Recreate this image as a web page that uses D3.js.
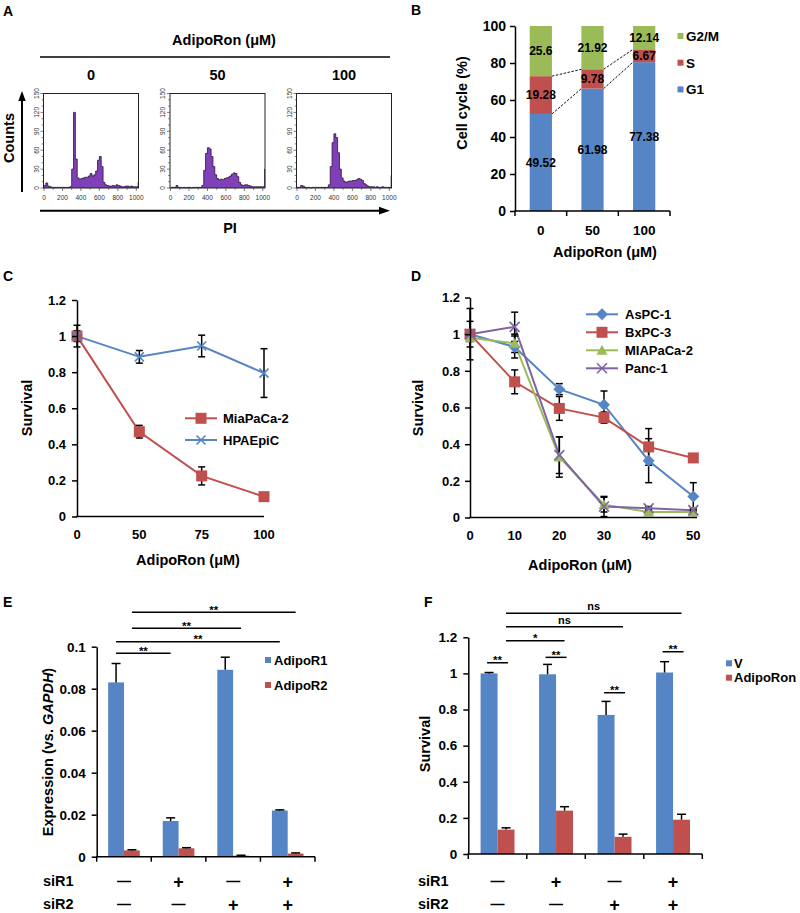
<!DOCTYPE html>
<html>
<head>
<meta charset="utf-8">
<script src="https://cdn.jsdelivr.net/npm/d3@7"></script>
<style>
body { margin: 0; background: #fff; }
svg { display: block; font-family: "Liberation Sans", Arial, sans-serif; font-weight: bold; }
</style>
</head>
<body>
<svg width="800" height="913"></svg>
<script>
var WIDTH = 800;
var HEIGHT = 913;
var FONT = "'Liberation Sans', Arial, sans-serif";
var BLUE = "#5585c5", RED = "#c0504d", GREEN = "#9bbb59", PURPLE = "#8064a2", HIST = "#8040b8";

// A: PI histograms, bins of 20 channels
var histDoses = ["0", "50", "100"];
var histBins = d3.range(0, 1040, 20);
var hist0 = [4, 8, 3, 2, 1, 1, 1, 1, 1, 1, 1, 1, 1, 1, 2, 30, 120, 46, 16, 14, 15, 16, 17, 17, 19, 23, 19, 21, 27, 44,
    50, 34, 9, 5, 4, 3, 3, 4, 3, 5, 4, 3, 2, 2, 3, 3, 2, 3, 2, 2, 2, 9];
var hist50 = [1, 1, 1, 4, 1, 1, 0, 1, 0, 1, 1, 0, 1, 1, 1, 1, 1, 4, 28, 55, 64, 62, 50, 34, 21, 15, 13, 14, 13, 15,
    16, 17, 19, 22, 24, 23, 18, 9, 5, 4, 5, 5, 4, 3, 2, 2, 2, 2, 2, 2, 2, 30];
var hist100 = [1, 1, 4, 3, 1, 1, 1, 0, 1, 1, 1, 1, 1, 1, 1, 1, 1, 5, 34, 72, 86, 80, 56, 30, 16, 11, 9, 10, 11, 11,
    12, 12, 13, 15, 14, 12, 7, 5, 3, 2, 2, 2, 1, 2, 1, 1, 2, 1, 1, 1, 1, 20];
var histXTicks = [0, 200, 400, 600, 800, 1000];
var histYTicks = [0, 30, 60, 90, 120, 150];

// B: cell cycle distribution
var cycleDoses = ["0", "50", "100"];
var phaseNames = ["G1", "S", "G2/M"];
var g1Pct = [49.52, 61.98, 77.38];
var sPct = [19.28, 9.78, 6.67];
var g2mPct = [25.6, 21.92, 12.14];
var pctTicks = [0, 20, 40, 60, 80, 100];

// C: survival, MiaPaCa-2 vs HPAEpiC
var dosesC = ["0", "50", "75", "100"];
var miaC = [1.0, 0.47, 0.225, 0.11];
var miaCErr = [0.03, 0.035, 0.05, 0.01];
var hpaC = [1.0, 0.885, 0.945, 0.795];
var hpaCErr = [0.06, 0.035, 0.06, 0.135];
var survTicks = [0, 0.2, 0.4, 0.6, 0.8, 1, 1.2];

// D: survival of four pancreatic lines
var dosesD = ["0", "10", "20", "30", "40", "50"];
var aspc = [1.0, 0.93, 0.70, 0.615, 0.31, 0.115];
var aspcErr = [0.07, 0.06, 0.03, 0.075, 0.12, 0.075];
var bxpc = [1.0, 0.74, 0.595, 0.545, 0.385, 0.325];
var bxpcErr = [0.02, 0.065, 0.065, 0.03, 0.1, 0.01];
var miaD = [0.98, 0.95, 0.33, 0.07, 0.03, 0.03];
var miaDErr = [0.02, 0.05, 0.11, 0.04, 0.01, 0.01];
var panc = [1.0, 1.04, 0.34, 0.06, 0.05, 0.04];
var pancErr = [0.14, 0.08, 0.1, 0.055, 0.01, 0.01];

// E / F: siRNA knockdown
var siR1 = ["—", "+", "—", "+"];
var siR2 = ["—", "—", "+", "+"];
var adipoR1 = [0.083, 0.017, 0.089, 0.022];
var adipoR1Err = [0.009, 0.0015, 0.006, 0.0003];
var adipoR2 = [0.003, 0.004, 0.0005, 0.0015];
var adipoR2Err = [0.0003, 0.0003, 0.0002, 0.0003];
var exprTicks = [0, 0.02, 0.04, 0.06, 0.08, 0.1];
var exprSig = [
    {a: [0, "AdipoR1"], b: [1, "AdipoR1"], level: 0.0969, label: "**"},
    {a: [0, "AdipoR1"], b: [3, "AdipoR1"], level: 0.1024, label: "**"},
    {a: [0, "AdipoR2"], b: [2, "AdipoR2"], level: 0.1088, label: "**"},
    {a: [0, "AdipoR2"], b: [3, "AdipoR2"], level: 0.1164, label: "**"}
];
var survV = [1.0, 0.995, 0.77, 1.005];
var survVErr = [0.005, 0.055, 0.075, 0.06];
var survAR = [0.135, 0.24, 0.095, 0.19];
var survARErr = [0.01, 0.022, 0.015, 0.03];
var survSig = [
    {a: [0, "V"], b: [0, "AdipoRon"], level: 1.059, label: "**"},
    {a: [1, "V"], b: [1, "AdipoRon"], level: 1.089, label: "**"},
    {a: [2, "V"], b: [2, "AdipoRon"], level: 0.893, label: "**"},
    {a: [3, "V"], b: [3, "AdipoRon"], level: 1.12, label: "**"},
    {a: [0, "AdipoRon"], b: [1, "AdipoRon"], level: 1.181, label: "*"},
    {a: [0, "AdipoRon"], b: [2, "AdipoRon"], level: 1.259, label: "ns"},
    {a: [0, "AdipoRon"], b: [3, "AdipoRon"], level: 1.333, label: "ns"}
];

var svg = d3.select("svg")
    .attr("width", WIDTH)
    .attr("height", HEIGHT);

function label(x, y, txt, size, anchor) {
    return svg.append("text")
        .attr("x", x)
        .attr("y", y)
        .attr("font-size", size)
        .attr("text-anchor", anchor || "start")
        .attr("fill", "#000")
        .text(txt);
}

function vlabel(x, y, txt, size) {
    return svg.append("text")
        .attr("transform", "translate(" + x + "," + y + ") rotate(-90)")
        .attr("font-size", size)
        .attr("text-anchor", "middle")
        .attr("fill", "#000")
        .text(txt);
}

function seg(x1, y1, x2, y2, w) {
    return svg.append("line")
        .attr("x1", x1).attr("y1", y1)
        .attr("x2", x2).attr("y2", y2)
        .attr("stroke", "#000")
        .attr("stroke-width", w || 1.5);
}

function leftAxis(y, x, ticks, fmt, pad, size) {
    var g = svg.append("g")
        .attr("transform", "translate(" + x + ",0)")
        .call(d3.axisLeft(y).tickValues(ticks).tickFormat(fmt)
            .tickSize(5).tickSizeOuter(0).tickPadding(pad));
    g.attr("font-family", FONT).attr("font-size", size || 13).attr("font-weight", "bold");
    g.select(".domain").attr("stroke", "#000").attr("stroke-width", 1.5);
    g.selectAll(".tick line").attr("stroke", "#000").attr("stroke-width", 1.5);
    g.selectAll(".tick text").attr("fill", "#000");
    return g;
}

function fmtSurv(d) {
    return (d === 0 || d === 1) ? String(d) : d.toFixed(1);
}

// yBot null -> only the upper half (bar charts)
function errBar(x, yTop, yBot, cap) {
    seg(x - cap / 2, yTop, x + cap / 2, yTop, 1.5);
    if (yBot !== null) {
        seg(x, yTop, x, yBot, 1.5);
        seg(x - cap / 2, yBot, x + cap / 2, yBot, 1.5);
    }
}

function marker(g, type, size, color) {
    var h = size / 2;
    if (type === "square") {
        g.append("rect").attr("x", -h).attr("y", -h).attr("width", size).attr("height", size)
            .attr("fill", color);
    } else if (type === "diamond") {
        g.append("path").attr("d", "M0," + (-h) + "L" + h + ",0L0," + h + "L" + (-h) + ",0Z")
            .attr("fill", color);
    } else if (type === "triangle") {
        g.append("path").attr("d", "M0," + (-h) + "L" + h + "," + (h * 0.8) + "L" + (-h) + "," + (h * 0.8) + "Z")
            .attr("fill", color);
    } else {
        g.append("path").attr("d", "M" + (-h) + "," + (-h) + "L" + h + "," + h + "M" + h + "," + (-h) + "L" + (-h) + "," + h)
            .attr("stroke", color).attr("stroke-width", 1.6).attr("fill", "none");
    }
}

// ---------------- panel letters
label(3, 16, "A", 14);
label(411, 15, "B", 14);
label(3, 281, "C", 14);
label(411, 281, "D", 14);
label(3, 607, "E", 14);
label(424, 607, "F", 14);

// ---------------- A
label(224, 45, "AdipoRon (\u03bcM)", 14.5, "middle");
seg(40, 57, 390, 57, 1.5);

var hists = [hist0, hist50, hist100];
hists.forEach(function(counts, i) {
    var x0 = 43.5 + i * 126.5;
    var hx = d3.scaleLinear().domain([0, 1024]).range([x0 + 0.5, x0 + 95]);
    var hy = d3.scaleLinear().domain([0, 150]).range([188, 93.5]);
    var pts = histBins.map(function(b, k) { return {bin: b, n: counts[k]}; });
    pts.push({bin: 1024, n: counts[counts.length - 1]});

    label(x0 + 47.5, 80, histDoses[i], 14.5, "middle");

    svg.append("path")
        .datum(pts)
        .attr("d", d3.area().curve(d3.curveStepAfter)
            .x(function(d) { return hx(d.bin); })
            .y0(hy(0))
            .y1(function(d) { return hy(d.n); }))
        .attr("fill", HIST);
    svg.append("path")
        .datum(pts)
        .attr("d", d3.line().curve(d3.curveStepAfter)
            .x(function(d) { return hx(d.bin); })
            .y(function(d) { return hy(d.n); }))
        .attr("fill", "none")
        .attr("stroke", "#2a1538")
        .attr("stroke-width", 0.8);

    svg.append("rect")
        .attr("x", x0).attr("y", 93.5)
        .attr("width", 95).attr("height", 94.5)
        .attr("fill", "none").attr("stroke", "#222").attr("stroke-width", 1);

    // small ticks
    svg.selectAll(null)
        .data(d3.range(0, 151, 10))
        .enter().append("line")
        .attr("x1", x0).attr("x2", function(d) { return d % 30 === 0 ? x0 - 3 : x0 - 1.8; })
        .attr("y1", hy).attr("y2", hy)
        .attr("stroke", "#444").attr("stroke-width", 0.7);
    svg.selectAll(null)
        .data(d3.range(0, 1001, 100))
        .enter().append("line")
        .attr("x1", hx).attr("x2", hx)
        .attr("y1", 188).attr("y2", function(d) { return d % 200 === 0 ? 191 : 189.8; })
        .attr("stroke", "#444").attr("stroke-width", 0.7);
    svg.selectAll(null)
        .data(histYTicks)
        .enter().append("text")
        .attr("transform", function(d) { return "translate(" + (x0 - 5) + "," + hy(d) + ") rotate(-90)"; })
        .attr("text-anchor", "middle")
        .attr("font-size", 6.5)
        .attr("font-weight", "normal")
        .attr("fill", "#333")
        .text(function(d) { return d; });
    svg.selectAll(null)
        .data(histXTicks)
        .enter().append("text")
        .attr("x", hx).attr("y", 200)
        .attr("text-anchor", "middle")
        .attr("font-size", 6.5)
        .attr("font-weight", "normal")
        .attr("fill", "#333")
        .text(function(d) { return d; });
});

// axis arrows
seg(22, 192, 22, 100, 2);
svg.append("path").attr("d", "M22,91L18.3,101L25.7,101Z").attr("fill", "#000");
seg(40, 210.7, 380, 210.7, 2);
svg.append("path").attr("d", "M390,210.7L379,206.8L379,214.6Z").attr("fill", "#000");
vlabel(13.5, 138, "Counts", 14.5);
label(230, 233, "PI", 14.5, "middle");

// ---------------- B
var yB = d3.scaleLinear().domain([0, 100]).range([211, 26]);
var xB = d3.scaleBand().domain(cycleDoses).range([515, 670]).paddingInner(0.57).paddingOuter(0.285);
var cycleRows = cycleDoses.map(function(d, i) {
    return {dose: d, "G1": g1Pct[i], "S": sPct[i], "G2/M": g2mPct[i]};
});
var cycleStack = d3.stack().keys(phaseNames).offset(d3.stackOffsetExpand)(cycleRows);
var phaseColor = {"G1": BLUE, "S": RED, "G2/M": GREEN};

cycleStack.forEach(function(layer) {
    svg.selectAll(null)
        .data(layer)
        .enter().append("rect")
        .attr("x", function(d) { return xB(d.data.dose); })
        .attr("y", function(d) { return yB(d[1] * 100); })
        .attr("width", xB.bandwidth())
        .attr("height", function(d) { return yB(d[0] * 100) - yB(d[1] * 100); })
        .attr("fill", phaseColor[layer.key]);
});
// dashed connectors at the G1 and S tops
[0, 1].forEach(function(k) {
    for (var i = 0; i < cycleDoses.length - 1; i++) {
        svg.append("line")
            .attr("x1", xB(cycleDoses[i]) + xB.bandwidth())
            .attr("y1", yB(cycleStack[k][i][1] * 100))
            .attr("x2", xB(cycleDoses[i + 1]))
            .attr("y2", yB(cycleStack[k][i + 1][1] * 100))
            .attr("stroke", "#111").attr("stroke-width", 1)
            .attr("stroke-dasharray", "2.5,1.5");
    }
});
cycleStack.forEach(function(layer) {
    svg.selectAll(null)
        .data(layer)
        .enter().append("text")
        .attr("x", function(d) { return xB(d.data.dose) + xB.bandwidth() / 2; })
        .attr("y", function(d) { return yB((d[0] + d[1]) * 50) + 4.3; })
        .attr("text-anchor", "middle")
        .attr("font-size", 12)
        .attr("fill", "#000")
        .text(function(d) { return d.data[layer.key]; });
});
leftAxis(yB, 515, pctTicks, d3.format("d"), 4, 14);
seg(514.25, 211, 670, 211, 1.5);
[0, 1, 2, 3].forEach(function(k) {
    var xt = 515 + k * xB.step();
    seg(xt, 211, xt, 216, 1.5);
});
cycleDoses.forEach(function(d) {
    label(xB(d) + xB.bandwidth() / 2, 235, d, 13.5, "middle");
});
label(605, 257, "AdipoRon (\u03bcM)", 14.5, "middle");
vlabel(466.5, 103, "Cell cycle (%)", 14.5);
["G2/M", "S", "G1"].forEach(function(p, i) {
    var ly = 36 + i * 26.7;
    svg.append("rect").attr("x", 677.5).attr("y", ly - 3).attr("width", 6).attr("height", 6)
        .attr("fill", phaseColor[p]);
    label(686, ly + 4.8, p, 13.5);
});

// ---------------- C and D line charts
function lineChart(xs, ys, doses, series, xEnd) {
    series.forEach(function(s) {
        svg.append("path")
            .datum(s.values)
            .attr("d", d3.line()
                .x(function(d, i) { return xs(doses[i]); })
                .y(function(d) { return ys(d); }))
            .attr("fill", "none")
            .attr("stroke", s.color)
            .attr("stroke-width", 2);
    });
    series.forEach(function(s) {
        s.values.forEach(function(v, i) {
            errBar(xs(doses[i]), ys(v + s.err[i]), ys(v - s.err[i]), 7);
        });
    });
    series.forEach(function(s) {
        s.values.forEach(function(v, i) {
            var g = svg.append("g").attr("transform", "translate(" + xs(doses[i]) + "," + ys(v) + ")");
            marker(g, s.symbol, s.size, s.color);
        });
    });
    seg(xs(doses[0]) - 0.75, ys(0), xEnd, ys(0), 1.5);
    doses.forEach(function(d) {
        label(xs(d), ys(0) + 22, d, 13, "middle");
    });
}

function lineLegend(series, x1, x2, tx, y0, dy) {
    series.forEach(function(s, i) {
        var ly = y0 + i * dy;
        seg(x1, ly, x2, ly, 2).attr("stroke", s.color);
        var g = svg.append("g").attr("transform", "translate(" + ((x1 + x2) / 2) + "," + ly + ")");
        marker(g, s.symbol, s.size, s.color);
        label(tx, ly + 4.6, s.name, 13);
    });
}

var xC = d3.scalePoint().domain(dosesC).range([77, 264]);
var yC = d3.scaleLinear().domain([0, 1.2]).range([516.5, 300]);
var seriesC = [
    {name: "MiaPaCa-2", values: miaC, err: miaCErr, color: RED, symbol: "square", size: 11},
    {name: "HPAEpiC", values: hpaC, err: hpaCErr, color: BLUE, symbol: "x", size: 9}
];
lineChart(xC, yC, dosesC, seriesC, 264);
leftAxis(yC, 77, survTicks, fmtSurv, 6, 13);
lineLegend(seriesC, 185, 217, 223, 418.3, 21.7);
vlabel(32, 408, "Survival", 14.5);
label(188, 565, "AdipoRon (\u03bcM)", 14.5, "middle");

var xD = d3.scalePoint().domain(dosesD).range([470, 693.3]);
var yD = d3.scaleLinear().domain([0, 1.2]).range([517.5, 297.5]);
var seriesD = [
    {name: "AsPC-1", values: aspc, err: aspcErr, color: BLUE, symbol: "diamond", size: 12},
    {name: "BxPC-3", values: bxpc, err: bxpcErr, color: RED, symbol: "square", size: 11},
    {name: "MIAPaCa-2", values: miaD, err: miaDErr, color: GREEN, symbol: "triangle", size: 11},
    {name: "Panc-1", values: panc, err: pancErr, color: PURPLE, symbol: "x", size: 10}
];
lineChart(xD, yD, dosesD, seriesD, 697);
leftAxis(yD, 470, survTicks, fmtSurv, 5, 13);
lineLegend(seriesD, 586, 618, 625, 314.3, 18);
vlabel(422.5, 408, "Survival", 14.5);
label(580, 570, "AdipoRon (\u03bcM)", 14.5, "middle");

// ---------------- E and F grouped bars
function groupedBars(x0, x1, y, keys, vals, errs, colors, ticks, fmt, pad) {
    var xg = d3.scaleBand().domain(d3.range(vals[0].length)).range([x0, x1])
        .paddingInner(0.42).paddingOuter(0.21);
    var xs = d3.scaleBand().domain(keys).range([0, xg.bandwidth()]);
    keys.forEach(function(k, j) {
        svg.selectAll(null)
            .data(vals[j])
            .enter().append("rect")
            .attr("x", function(d, i) { return xg(i) + xs(k); })
            .attr("y", function(d) { return y(d); })
            .attr("width", xs.bandwidth())
            .attr("height", function(d) { return y(0) - y(d); })
            .attr("fill", colors[j]);
        vals[j].forEach(function(v, i) {
            var cx = xg(i) + xs(k) + xs.bandwidth() / 2;
            seg(cx, y(v + errs[j][i]), cx, y(v), 1.5);
            errBar(cx, y(v + errs[j][i]), null, 9);
        });
    });
    leftAxis(y, x0, ticks, fmt, pad, 13.5);
    seg(x0 - 0.75, y(0), x1, y(0), 1.5);
    for (var k = 0; k <= vals[0].length; k++) {
        seg(x0 + k * xg.step(), y(0), x0 + k * xg.step(), y(0) + 5, 1.5);
    }
    var rows = [["siR1", siR1, 886], ["siR2", siR2, 909]];
    rows.forEach(function(r) {
        r[1].forEach(function(s, i) {
            label(xg(i) + xg.bandwidth() / 2, r[2] + (s === "+" ? 1.5 : 0), s, s === "+" ? 18 : 14, "middle");
        });
    });
    return {g: xg, s: xs};
}

function sigLines(sc, y, list) {
    list.forEach(function(c) {
        var xa = sc.g(c.a[0]) + sc.s(c.a[1]) + sc.s.bandwidth() / 2;
        var xb = sc.g(c.b[0]) + sc.s(c.b[1]) + sc.s.bandwidth() / 2;
        if (c.a[0] === c.b[0]) { xa -= 2; xb += 2; }
        var ly = y(c.level);
        seg(xa, ly, xb, ly, 1.5);
        label((xa + xb) / 2, c.label === "ns" ? ly - 3 : ly + 1.5, c.label, c.label === "ns" ? 11 : 11.5, "middle");
    });
}

var yE = d3.scaleLinear().domain([0, 0.1]).range([856.7, 646.7]);
var scE = groupedBars(96.7, 315, yE, ["AdipoR1", "AdipoR2"], [adipoR1, adipoR2], [adipoR1Err, adipoR2Err],
    [BLUE, RED], exprTicks, function(d) { return d === 0 ? "0" : (d === 0.1 ? "0.1" : d.toFixed(2)); }, 6);
sigLines(scE, yE, exprSig);
label(43, 886, "siR1", 14.5);
label(43, 909, "siR2", 14.5);
var eTitle = svg.append("text")
    .attr("transform", "translate(53.3,752) rotate(-90)")
    .attr("font-size", 14.5)
    .attr("text-anchor", "middle")
    .attr("fill", "#000");
eTitle.append("tspan").text("Expression (vs. ");
eTitle.append("tspan").attr("font-style", "italic").text("GAPDH");
eTitle.append("tspan").text(")");
["AdipoR1", "AdipoR2"].forEach(function(k, i) {
    var ly = 660 + i * 25;
    svg.append("rect").attr("x", 265).attr("y", ly - 3).attr("width", 6).attr("height", 6)
        .attr("fill", i === 0 ? BLUE : RED);
    label(274, ly + 4.6, k, 13);
});

var yF = d3.scaleLinear().domain([0, 1.2]).range([854, 637.3]);
var scF = groupedBars(468.3, 702.3, yF, ["V", "AdipoRon"], [survV, survAR], [survVErr, survARErr],
    [BLUE, RED], survTicks, fmtSurv, 6);
sigLines(scF, yF, survSig);
label(418, 886, "siR1", 14.5);
label(418, 909, "siR2", 14.5);
vlabel(430, 744, "Survival", 14.5);
["V", "AdipoRon"].forEach(function(k, i) {
    var ly = 663.3 + i * 14.4;
    svg.append("rect").attr("x", 726).attr("y", ly - 3).attr("width", 6).attr("height", 6)
        .attr("fill", i === 0 ? BLUE : RED);
    label(734, ly + 4.6, k, 13);
});
</script>
</body>
</html>
